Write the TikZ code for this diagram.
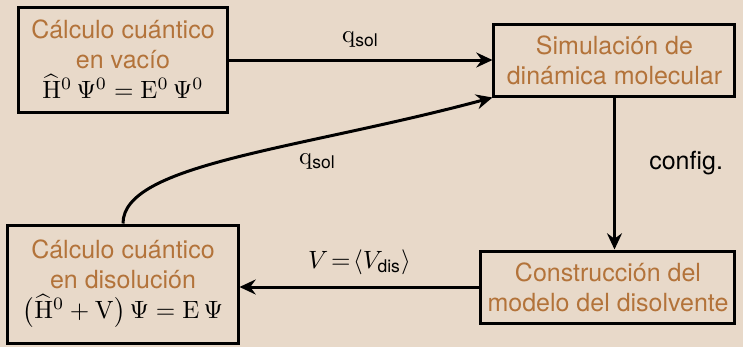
\documentclass[tikz,border=0pt]{standalone}
\usepackage{amsmath}
\usepackage[no-math]{fontspec}
\setmainfont{TeX Gyre Heros}
\usetikzlibrary{arrows.meta}
\definecolor{bgc}{HTML}{E8D9C9}
\definecolor{txc}{HTML}{B3733A}
\tikzset{
  box/.style={draw=black, line width=1.2pt, align=center, inner sep=0pt,
    font=\normalsize, execute at begin node={\color{txc}}},
  conn/.style={line width=1.2pt, -{Stealth[length=6.5pt,width=6pt,inset=2.2pt]}},
  lbl/.style={font=\normalsize, text=black}
}
\begin{document}
\begin{tikzpicture}[x=0.4pt,y=0.4pt]
\fill[bgc] (0,0) rectangle (743,-347);
\useasboundingbox (0,0) rectangle (743,-347);
\node[box, minimum width=83.2pt, minimum height=42pt] (vac) at (123,-59.5)
  {Cálculo cuántico\\en vacío\\ \color{black}$\widehat{\mathrm{H}}^0\,\Psi^0 = \mathrm{E}^0\,\Psi^0$};
\node[box, minimum width=96.4pt, minimum height=28.8pt] (sim) at (614.5,-60)
  {Simulación de\\dinámica molecular};
\node[box, minimum width=101.6pt, minimum height=28.8pt] (con) at (608,-287)
  {Construcción del\\modelo del disolvente};
\node[box, minimum width=92pt, minimum height=47.2pt] (dis) at (123,-284)
  {Cálculo cuántico\\en disolución\\ \color{black}$\bigl(\widehat{\mathrm{H}}^0 + \mathrm{V}\bigr)\,\Psi = \mathrm{E}\,\Psi$};
\draw[conn] (vac.east |- sim.west) -- node[lbl, above=1pt] {$\mathrm{q}_{\text{sol}}$} (sim.west);
\draw[conn] (dis.north) .. controls ++(0,60) and ++(-193,-52) .. node[lbl, pos=0.68, below=2pt] {$\mathrm{q}_{\text{sol}}$} (sim.south west);
\draw[conn] (sim.south) -- node[lbl, pos=0.43, right=10pt] {config.} (sim.south |- con.north);
\draw[conn] (con.west) -- node[lbl, above=1pt] {$V\!=\!\langle V_{\text{dis}}\rangle$} (dis.east |- con.west);
\end{tikzpicture}
\end{document}
